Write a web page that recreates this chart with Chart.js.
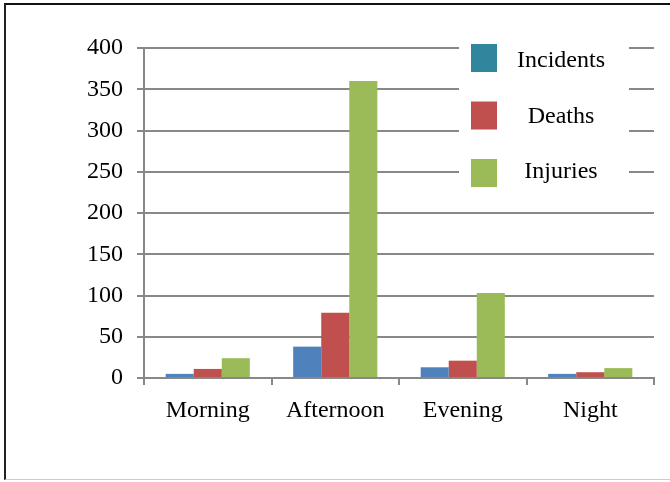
<!DOCTYPE html>
<html>
<head>
<meta charset="utf-8">
<script src="https://cdn.jsdelivr.net/npm/chart.js@4.4.1/dist/chart.umd.min.js"></script>
<style>
  body { margin: 0; background: #fff; }
  #wrap { position: relative; width: 670px; height: 482px; }
  #frame {
    position: absolute; left: 4px; top: 3px; width: 666px; height: 474px;
    border-top: 2px solid #111; border-left: 2px solid #222; border-bottom: 1px solid #ccc;
    pointer-events: none;
  }
  canvas { position: absolute; left: 0; top: 0; }
</style>
</head>
<body>
<div id="wrap">
  <canvas id="chart" width="670" height="482"></canvas>
  <div id="frame"></div>
</div>
<script>
const categories = ["Morning", "Afternoon", "Evening", "Night"];
const incidents = [5, 38, 13, 5];
const deaths = [11, 79, 21, 7];
const injuries = [24, 360, 103, 12];
const yTicks = [0, 50, 100, 150, 200, 250, 300, 350, 400];

const fontFamily = "'Liberation Serif', 'Times New Roman', serif";

// legend drawn inside the plot, with white box over the gridlines
const boxLegend = {
    id: "boxLegend",
    afterDraw(chart) {
        const ctx = chart.ctx;
        ctx.save();
        ctx.fillStyle = "#fff";
        ctx.fillRect(459, 36, 170, 162);
        ctx.font = "24px " + fontFamily;
        ctx.textAlign = "center";
        ctx.textBaseline = "middle";
        chart.data.datasets.forEach(function (ds, i) {
            var top = 44 + i * 57.5;
            ctx.fillStyle = ds.legendColor;
            ctx.fillRect(471, top, 26, 28);
            ctx.fillStyle = "#000";
            ctx.fillText(ds.label, 561, 61 + i * 55.5);
        });
        ctx.restore();
    }
};

new Chart(document.getElementById("chart"), {
    type: "bar",
    data: {
        labels: categories,
        datasets: [
            { label: "Incidents", data: incidents, backgroundColor: "#4F81BD", legendColor: "#31859C" },
            { label: "Deaths", data: deaths, backgroundColor: "#C0504D", legendColor: "#C0504D" },
            { label: "Injuries", data: injuries, backgroundColor: "#9BBB59", legendColor: "#9BBB59" }
        ]
    },
    options: {
        responsive: false,
        animation: false,
        devicePixelRatio: 1,
        categoryPercentage: 0.66,
        barPercentage: 1,
        layout: { padding: { top: 48, right: 16, left: 0, bottom: 0 } },
        plugins: {
            legend: { display: false },
            tooltip: { enabled: false }
        },
        scales: {
            x: {
                grid: { drawOnChartArea: false, drawTicks: true, tickLength: 7, color: "#888", lineWidth: 2 },
                border: { color: "#888", width: 2 },
                ticks: { color: "#000", font: { family: fontFamily, size: 24 }, padding: 11 },
                afterFit: function (scale) { scale.height = 104; }
            },
            y: {
                min: 0,
                max: 400,
                afterBuildTicks: function (scale) {
                    scale.ticks = yTicks.map(function (v) { return { value: v }; });
                },
                grid: { color: "#888", lineWidth: 2, tickLength: 7 },
                border: { color: "#888", width: 2 },
                ticks: { color: "#000", font: { family: fontFamily, size: 24 }, padding: 14 },
                afterFit: function (scale) { scale.width = 144; }
            }
        }
    },
    plugins: [boxLegend]
});
</script>
</body>
</html>
